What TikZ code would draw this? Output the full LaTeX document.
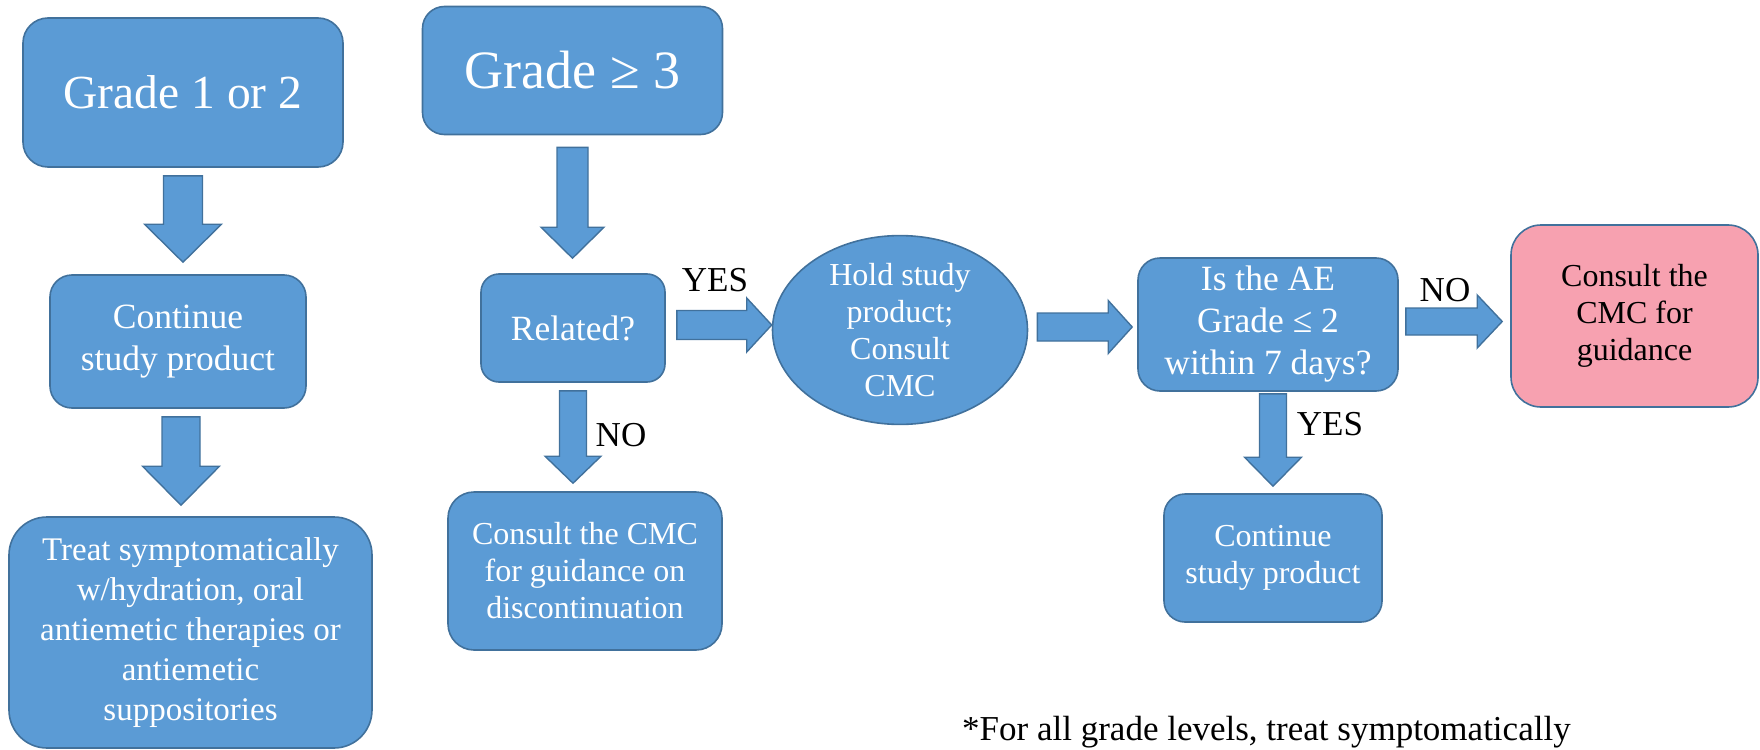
\documentclass[tikz,border=0pt]{standalone}
\usepackage{fontspec}
\setmainfont{Liberation Serif}
\newfontfamily\timesfont{Liberation Serif}
\usepackage{tikz}
\usetikzlibrary{calc}
\usetikzlibrary{positioning}
\usetikzlibrary{shapes.geometric}

\definecolor{boxblue}{HTML}{5B9BD5}
\definecolor{edgeblue}{HTML}{41719C}
\definecolor{boxpink}{HTML}{F7A1B0}

\tikzset{
  stepbox/.style={draw=edgeblue, line width=1.6pt, fill=boxblue, text=white, align=center, inner sep=0pt},
  bigtxt/.style={font=\timesfont\fontsize{47.5}{57}\selectfont},
  hugetxt/.style={font=\timesfont\fontsize{54}{65}\selectfont},
  midtxt/.style={font=\timesfont\fontsize{35.5}{42}\selectfont},
  smalltxt/.style={font=\timesfont\fontsize{32}{37}\selectfont},
  lbl/.style={font=\timesfont\fontsize{35}{42}\selectfont, inner sep=0pt},
  barrow/.style={draw=edgeblue, line width=1.4pt, fill=boxblue, line join=miter}
}

% block arrow: start, tip, shaft half width, head half width, head length
\newcommand{\blockarrow}[5]{%
  \path (#1) coordinate (ba-s) (#2) coordinate (ba-t) ($(ba-t)!#5!(ba-s)$) coordinate (ba-h);
  \draw[barrow] ($(ba-s)!#3!90:(ba-t)$) -- ($(ba-h)!#3!-90:(ba-s)$) -- ($(ba-h)!#4!-90:(ba-s)$)
    -- (ba-t) -- ($(ba-h)!#4!90:(ba-s)$) -- ($(ba-h)!#3!90:(ba-s)$) -- ($(ba-s)!#3!-90:(ba-t)$) -- cycle;
}

\begin{document}
\begin{tikzpicture}[x=1pt,y=1pt,yscale=-1,xscale=1]
            \useasboundingbox (0,0) rectangle (1760,749);

            %Shape: Rounded Rect
            \node [stepbox, bigtxt, rounded corners=25pt, minimum width=320pt, minimum height=149pt] (g12) at (183,92.5) {Grade 1 or 2};
            \node [stepbox, hugetxt, rounded corners=22pt, minimum width=300pt, minimum height=128pt] (g3) at (572.5,70.5) {Grade ≥ 3};
            \node [stepbox, midtxt, rounded corners=22pt, minimum width=256pt, minimum height=133pt] (cont1) at (178,341.5) {Continue\\study product};
            \node [stepbox, font=\timesfont\fontsize{33}{40}\selectfont, rounded corners=38pt, minimum width=363pt, minimum height=231pt] (treat) at (190.5,632.5) {Treat symptomatically\\w/hydration, oral\\antiemetic therapies or\\antiemetic\\suppositories};
            \node [stepbox, midtxt, rounded corners=18pt, minimum width=184pt, minimum height=108pt] (rel) at (573,328) {Related?};
            \node [stepbox, smalltxt, rounded corners=26pt, minimum width=274pt, minimum height=158pt] (disc) at (585,571) {Consult the CMC\\for guidance on\\discontinuation};
            %Shape: Ellipse
            \node [stepbox, smalltxt, ellipse, minimum width=255pt, minimum height=184pt] (hold) at (900,330) {Hold study\\product;\\Consult\\CMC};
            \node [stepbox, midtxt, rounded corners=22pt, minimum width=260pt, minimum height=133pt] (isae) at (1268,324.5) {Is the AE\\Grade ≤ 2\\within 7 days?};
            \node [stepbox, smalltxt, fill=boxpink, text=black, rounded corners=30pt, minimum width=247pt, minimum height=182pt] (pink) at (1634.5,316) {Consult the\\CMC for\\guidance};
            \node [stepbox, smalltxt, rounded corners=21pt, minimum width=218pt, minimum height=128pt] (cont2) at (1273,558) {Continue\\study product};

            %Block Arrows
            \blockarrow{$(g12.south)+(0,8)$}{$(g12.south |- cont1.north)+(0,-12)$}{19.5pt}{38.5pt}{38pt}
            \blockarrow{$(g3.south)+(0,12)$}{$(g3.south |- rel.north)+(0,-15)$}{15.5pt}{31.5pt}{31pt}
            \blockarrow{$(cont1.south)+(3,8)$}{$(cont1.south |- treat.north)+(3,-11)$}{19pt}{38.5pt}{39pt}
            \blockarrow{$(rel.south)+(0,8)$}{$(rel.south |- disc.north)+(0,-8)$}{13.5pt}{28pt}{27pt}
            \blockarrow{$(rel.east)+(11,-3)$}{$(rel.east -| hold.west)+(0,-3)$}{14.5pt}{27pt}{25pt}
            \blockarrow{$(hold.east)+(9,-3)$}{$(hold.east -| isae.west)+(-5,-3)$}{14pt}{26.5pt}{24pt}
            \blockarrow{$(isae.east)+(7,-3)$}{$(isae.east -| pink.west)+(-8,-3)$}{13.5pt}{26.5pt}{25pt}
            \blockarrow{$(isae.south -| cont2.north)+(0,2)$}{$(cont2.north)+(0,-7)$}{13.5pt}{28.5pt}{29pt}

            % Text Node
            \node [lbl] (yes1) at (715,280) {YES};
            % Text Node
            \node [lbl] (no1) at (621,435) {NO};
            % Text Node
            \node [lbl] (no2) at (1445,290) {NO};
            % Text Node
            \node [lbl] (yes2) at (1330,424) {YES};
            % Text Node
            \node [lbl, anchor=base west] (note) at (962,740) {*For all grade levels, treat symptomatically};

\end{tikzpicture}
\end{document}
